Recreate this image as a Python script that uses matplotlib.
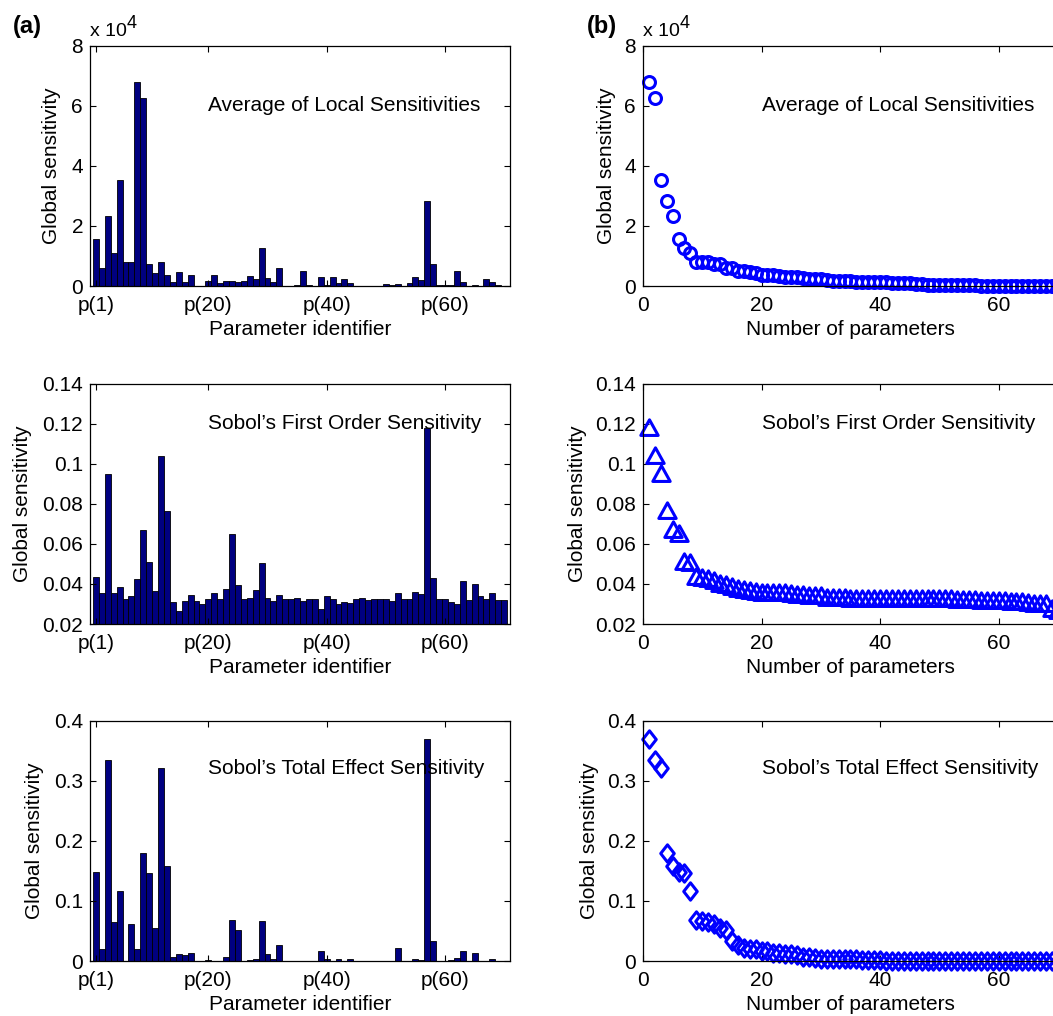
import matplotlib
matplotlib.use("Agg")
import matplotlib.pyplot as plt
import numpy as np
from matplotlib.path import Path
from matplotlib.ticker import FormatStrFormatter

plt.rcParams["font.family"] = ["Liberation Sans", "DejaVu Sans"]
plt.rcParams["font.size"] = 15

# values, parameters p(1)..p(70)
avg_local_e4 = [
    1.56, 0.61, 2.32, 1.10, 3.52, 0.80, 0.79, 6.80, 6.25, 0.74,
    0.44, 0.79, 0.38, 0.13, 0.48, 0.13, 0.37, 0.01, 0.00, 0.18,
    0.37, 0.10, 0.16, 0.16, 0.14, 0.16, 0.32, 0.22, 1.26, 0.28,
    0.13, 0.61, 0.01, 0.00, 0.02, 0.50, 0.02, 0.00, 0.29, 0.02,
    0.29, 0.10, 0.24, 0.10, 0.01, 0.01, 0.01, 0.01, 0.01, 0.06,
    0.02, 0.07, 0.01, 0.11, 0.30, 0.19, 2.82, 0.72, 0.02, 0.03,
    0.05, 0.51, 0.13, 0.01, 0.02, 0.00, 0.24, 0.12, 0.05, 0.01,
]
sobol_first = [
    0.0437, 0.0357, 0.0948, 0.0353, 0.0383, 0.0323, 0.0340, 0.0423, 0.0670, 0.0512,
    0.0367, 0.1037, 0.0765, 0.0308, 0.0263, 0.0317, 0.0343, 0.0315, 0.0300, 0.0323,
    0.0357, 0.0323, 0.0373, 0.0648, 0.0393, 0.0323, 0.0328, 0.0368, 0.0503, 0.0330,
    0.0315, 0.0343, 0.0323, 0.0323, 0.0328, 0.0313, 0.0323, 0.0323, 0.0275, 0.0340,
    0.0323, 0.0300, 0.0308, 0.0303, 0.0323, 0.0330, 0.0320, 0.0323, 0.0323, 0.0323,
    0.0315, 0.0357, 0.0323, 0.0323, 0.0360, 0.0348, 0.1178, 0.0428, 0.0323, 0.0323,
    0.0312, 0.0298, 0.0415, 0.0318, 0.0398, 0.0338, 0.0323, 0.0357, 0.0320, 0.0320,
]
sobol_total = [
    0.148, 0.020, 0.335, 0.065, 0.117, 0.000, 0.062, 0.020, 0.180, 0.147,
    0.055, 0.322, 0.158, 0.007, 0.012, 0.010, 0.014, 0.000, 0.000, 0.002,
    0.000, 0.000, 0.006, 0.068, 0.052, 0.000, 0.002, 0.003, 0.067, 0.011,
    0.003, 0.027, 0.000, 0.000, 0.000, 0.000, 0.000, 0.000, 0.017, 0.004,
    0.000, 0.003, 0.000, 0.003, 0.000, 0.000, 0.000, 0.000, 0.000, 0.000,
    0.000, 0.022, 0.000, 0.000, 0.003, 0.002, 0.369, 0.034, 0.000, 0.000,
    0.002, 0.005, 0.017, 0.000, 0.013, 0.000, 0.000, 0.004, 0.000, 0.000,
]

titles = [
    "Average of Local Sensitivities",
    "Sobol\u2019s First Order Sensitivity",
    "Sobol\u2019s Total Effect Sensitivity",
]
series = [avg_local_e4, sobol_first, sobol_total]
ylims = [(0, 8), (0.02, 0.14), (0, 0.4)]
yticks = [
    [0, 2, 4, 6, 8],
    [0.02, 0.04, 0.06, 0.08, 0.1, 0.12, 0.14],
    [0, 0.1, 0.2, 0.3, 0.4],
]
text_y = [6.0, 0.12, 0.32]
param_ticks = [1, 20, 40, 60]
param_labels = ["p(1)", "p(20)", "p(40)", "p(60)"]

tri = Path([(-1, -0.8), (1, -0.8), (0, 1), (-1, -0.8)], closed=True)
dia = Path([(0, 1), (0.78, 0), (0, -1), (-0.78, 0), (0, 1)], closed=True)
markers = [("o", 8.6), (tri, 12.5), (dia, 12.5)]

fig = plt.figure(figsize=(10.53, 10.16), dpi=100)
bottoms = [0.7185, 0.3858, 0.0541]
height = 0.2365


def style_axis(ax, right=True):
    ax.tick_params(direction="in", length=4, width=0.8, top=True, right=right,
                   labelsize=15)
    ax.tick_params(axis="x", pad=7)
    ax.tick_params(axis="y", pad=5)
    for sp in ax.spines.values():
        sp.set_linewidth(0.9)
    ax.yaxis.set_major_formatter(FormatStrFormatter("%g"))


def exponent_label(ax, x4):
    ax.text(0.0, 1.04, "x 10", transform=ax.transAxes, ha="left",
            va="baseline", fontsize=14)
    ax.text(x4, 1.072, "4", transform=ax.transAxes, ha="left",
            va="baseline", fontsize=13)


for row in range(3):
    vals = np.array(series[row])
    idx = np.arange(1, len(vals) + 1)

    # (a) bar chart per parameter
    ax = fig.add_axes([0.0855, bottoms[row], 0.3989, height])
    ax.bar(idx, vals, width=1.0, color="#000080", edgecolor="black", linewidth=0.6)
    ax.set_xlim(0, 71)
    ax.set_ylim(*ylims[row])
    ax.set_yticks(yticks[row])
    ax.set_xticks(param_ticks)
    ax.set_xticklabels(param_labels)
    style_axis(ax)
    ax.set_ylabel("Global sensitivity", labelpad=7.5)
    ax.set_xlabel("Parameter identifier", labelpad=4)
    ax.text(20, text_y[row], titles[row], ha="left", va="center", fontsize=15)
    if row == 0:
        exponent_label(ax, 0.088)

    # (b) sorted values
    bx = fig.add_axes([0.6106, bottoms[row], 0.3941, height])
    ranked = np.sort(vals)[::-1]
    mk, ms = markers[row]
    bx.plot(idx, ranked, linestyle="none", marker=mk, markersize=ms,
            markerfacecolor="none", markeredgecolor="#0000ff",
            markeredgewidth=2.2, clip_on=False)
    bx.set_xlim(0, 70)
    bx.set_ylim(*ylims[row])
    bx.set_yticks(yticks[row])
    bx.set_xticks([0, 20, 40, 60])
    style_axis(bx, right=False)
    bx.set_ylabel("Global sensitivity", labelpad=6)
    bx.set_xlabel("Number of parameters", labelpad=4)
    bx.text(20, text_y[row], titles[row], ha="left", va="center", fontsize=15)
    if row == 0:
        exponent_label(bx, 0.088)

fig.text(0.012, 0.9675, "(a)", fontsize=17, fontweight="bold", ha="left", va="baseline")
fig.text(0.557, 0.9675, "(b)", fontsize=17, fontweight="bold", ha="left", va="baseline")

fig.savefig("out.png", dpi=100)
